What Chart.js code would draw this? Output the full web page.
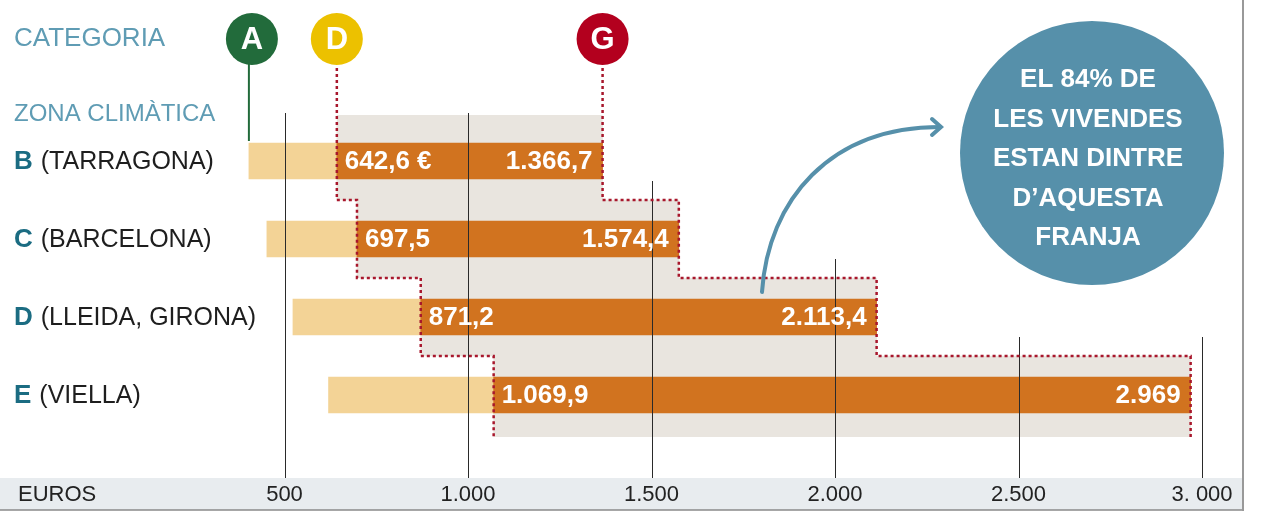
<!DOCTYPE html>
<html>
<head>
<meta charset="utf-8">
<script src="https://cdn.jsdelivr.net/npm/chart.js@4.4.1/dist/chart.umd.min.js"></script>
<style>
  body { margin: 0; background: #fff; }
  #wrap { width: 1261px; height: 512px; position: relative; }
</style>
</head>
<body>
<div id="wrap"><canvas id="chart"></canvas></div>
<script>
// climate zones (rows) and their cost ranges, in euros
const zones = ['B', 'C', 'D', 'E'];
const zoneNames = ['(TARRAGONA)', '(BARCELONA)', '(LLEIDA, GIRONA)', '(VIELLA)'];
const lowStart = [403, 452, 523, 620];          // category A start
const bandStart = [642.6, 697.5, 871.2, 1069.9]; // category D
const bandEnd = [1366.7, 1574.4, 2113.4, 2969];  // category G
const tickValues = [500, 1000, 1500, 2000, 2500, 3000];
const tickLabels = ['500', '1.000', '1.500', '2.000', '2.500', '3. 000'];
const noteLines = ['EL 84% DE', 'LES VIVENDES', 'ESTAN DINTRE', 'D\u2019AQUESTA', 'FRANJA'];

const ORANGE = '#d1731f';
const TAN = '#f3d396';
const GREY = '#e9e5df';
const DOTS = '#a8172c';
const BLUE = '#5690aa';
const FONT = '"Liberation Sans", Arial, sans-serif';

const fmt = v => {
    const [i, d] = v.toString().split('.');
    const int = i.replace(/\B(?=(\d{3})+(?!\d))/g, '.');
    return d ? int + ',' + d : int;
};

const decor = {
    id: 'decor',
    beforeDraw(chart) {
        const { ctx } = chart;
        ctx.save();
        // axis band at the bottom
        ctx.fillStyle = '#e8ecef';
        ctx.fillRect(0, 478, 1243, 32);
        ctx.strokeStyle = '#8a8a8a';
        ctx.lineWidth = 1.5;
        ctx.beginPath();
        ctx.moveTo(0, 510);
        ctx.lineTo(1243, 510);
        ctx.stroke();
        ctx.restore();
    },
    beforeDatasetsDraw(chart) {
        // the grey band runs a little past the first and last rows
        const { ctx, chartArea } = chart;
        const x = chart.scales.x;
        const n = zones.length - 1;
        ctx.save();
        ctx.fillStyle = GREY;
        const x0 = x.getPixelForValue(bandStart[0]);
        ctx.fillRect(x0, chartArea.top - 7, x.getPixelForValue(bandEnd[0]) - x0, 7);
        const x1 = x.getPixelForValue(bandStart[n]);
        ctx.fillRect(x1, chartArea.bottom, x.getPixelForValue(bandEnd[n]) - x1, 3);
        ctx.restore();
    },
    afterDatasetsDraw(chart) {
        const { ctx, chartArea } = chart;
        const x = chart.scales.x, y = chart.scales.y;
        const half = (chartArea.bottom - chartArea.top) / zones.length / 2;
        ctx.save();

        // staggered gridlines: each starts under the last bar that stops short of it
        ctx.strokeStyle = '#2a2a2a';
        ctx.lineWidth = 1;
        tickValues.forEach(t => {
            let last = -1;
            for (let i = 0; i < zones.length && bandEnd[i] < t - 100; i++) last = i;
            const top = last < 0 ? chartArea.top - 9 : y.getPixelForValue(last) + 20;
            const px = Math.round(x.getPixelForValue(t)) + 0.5;
            ctx.beginPath();
            ctx.moveTo(px, top);
            ctx.lineTo(px, 478);
            ctx.stroke();
        });

        // dotted stair outlines from the D and G markers
        ctx.strokeStyle = DOTS;
        ctx.lineWidth = 2.5;
        ctx.setLineDash([3, 3]);
        [bandStart, bandEnd].forEach(arr => {
            ctx.beginPath();
            ctx.moveTo(x.getPixelForValue(arr[0]), 68);
            arr.forEach((v, i) => {
                const px = x.getPixelForValue(v);
                if (i > 0) ctx.lineTo(px, y.getPixelForValue(i - 1) + half);
                ctx.lineTo(px, y.getPixelForValue(i) + half + (i === arr.length - 1 ? 3 : 0));
            });
            ctx.stroke();
        });
        ctx.setLineDash([]);

        // green line from marker A
        ctx.strokeStyle = '#226b3b';
        ctx.lineWidth = 2;
        const ax = x.getPixelForValue(lowStart[0]);
        ctx.beginPath();
        ctx.moveTo(ax, 64);
        ctx.lineTo(ax, y.getPixelForValue(0) - 20);
        ctx.stroke();

        // value labels in the orange bars
        ctx.fillStyle = '#fff';
        ctx.font = 'bold 26px ' + FONT;
        ctx.textBaseline = 'middle';
        zones.forEach((z, i) => {
            const py = y.getPixelForValue(i) + 1;
            ctx.textAlign = 'left';
            ctx.fillText(fmt(bandStart[i]) + (i === 0 ? ' \u20ac' : ''), x.getPixelForValue(bandStart[i]) + 8, py);
            ctx.textAlign = 'right';
            ctx.fillText(fmt(bandEnd[i]), x.getPixelForValue(bandEnd[i]) - 10, py);
        });
        ctx.restore();
    },
    afterDraw(chart) {
        const { ctx } = chart;
        const x = chart.scales.x, y = chart.scales.y;
        ctx.save();
        ctx.textBaseline = 'middle';

        // headings
        ctx.fillStyle = '#5f9cb4';
        ctx.textAlign = 'left';
        ctx.font = '26px ' + FONT;
        ctx.fillText('CATEGORIA', 14, 39);
        ctx.font = '24px ' + FONT;
        ctx.fillText('ZONA CLIM\u00c0TICA', 14, 114);

        // row labels
        zones.forEach((z, i) => {
            const py = y.getPixelForValue(i) + 1;
            ctx.font = 'bold 26px ' + FONT;
            ctx.fillStyle = '#1b6c82';
            ctx.fillText(z, 14, py);
            const w = ctx.measureText(z).width;
            ctx.font = '25px ' + FONT;
            ctx.fillStyle = '#1e1e1e';
            ctx.fillText(zoneNames[i], 14 + w + 8, py);
        });

        // category markers
        [[lowStart[0], '#226b3b', 'A'], [bandStart[0], '#ecc100', 'D'], [bandEnd[0], '#b3001e', 'G']]
            .forEach(([v, col, txt]) => {
                const cx = x.getPixelForValue(v) + (txt === 'A' ? 3 : 0);
                ctx.fillStyle = col;
                ctx.beginPath();
                ctx.arc(cx, 39, 26, 0, Math.PI * 2);
                ctx.fill();
                ctx.fillStyle = '#fff';
                ctx.font = 'bold 31px ' + FONT;
                ctx.textAlign = 'center';
                ctx.fillText(txt, cx, 40);
            });

        // axis labels
        ctx.fillStyle = '#222';
        ctx.font = '22px ' + FONT;
        ctx.textAlign = 'left';
        ctx.fillText('EUROS', 18, 495);
        ctx.textAlign = 'center';
        tickValues.forEach((t, i) => ctx.fillText(tickLabels[i], x.getPixelForValue(t), 495));

        // note bubble and arrow
        ctx.fillStyle = BLUE;
        ctx.beginPath();
        ctx.arc(1092, 153, 132, 0, Math.PI * 2);
        ctx.fill();
        ctx.fillStyle = '#fff';
        ctx.font = 'bold 26px ' + FONT;
        noteLines.forEach((l, i) => ctx.fillText(l, 1088, 80 + i * 39.5));

        ctx.strokeStyle = BLUE;
        ctx.lineWidth = 4;
        ctx.lineCap = 'round';
        ctx.beginPath();
        ctx.moveTo(762, 292);
        ctx.bezierCurveTo(768, 200, 830, 127, 940, 127);
        ctx.stroke();
        ctx.beginPath();
        ctx.moveTo(932, 119);
        ctx.lineTo(941, 127);
        ctx.lineTo(932, 135);
        ctx.stroke();

        // frame on the right
        ctx.strokeStyle = '#999';
        ctx.lineWidth = 2;
        ctx.lineCap = 'butt';
        ctx.beginPath();
        ctx.moveTo(1243, 0);
        ctx.lineTo(1243, 511);
        ctx.stroke();
        ctx.restore();
    }
};

new Chart('chart', {
    type: 'bar',
    data: {
        labels: zones,
        datasets: [
            {
                label: 'D-G',
                data: bandStart.map((s, i) => [s, bandEnd[i]]),
                backgroundColor: ORANGE,
                barThickness: 36,
                grouped: false,
                order: 0,
            },
            {
                label: 'A-D',
                data: lowStart.map((s, i) => [s, bandStart[i]]),
                backgroundColor: TAN,
                barThickness: 36,
                grouped: false,
                order: 1,
            },
            {
                label: 'franja',
                data: bandStart.map((s, i) => [s, bandEnd[i]]),
                backgroundColor: GREY,
                barPercentage: 1,
                categoryPercentage: 1,
                grouped: false,
                order: 2,
            },
        ],
    },
    options: {
        indexAxis: 'y',
        responsive: true,
        maintainAspectRatio: false,
        animation: false,
        layout: { padding: { left: 101, right: 59, top: 122, bottom: 78 } },
        plugins: {
            legend: { display: false },
            tooltip: { enabled: false },
        },
        scales: {
            x: { type: 'linear', min: 0, max: 3000, display: false },
            y: { type: 'category', display: false },
        },
    },
    plugins: [decor],
});
</script>
</body>
</html>
